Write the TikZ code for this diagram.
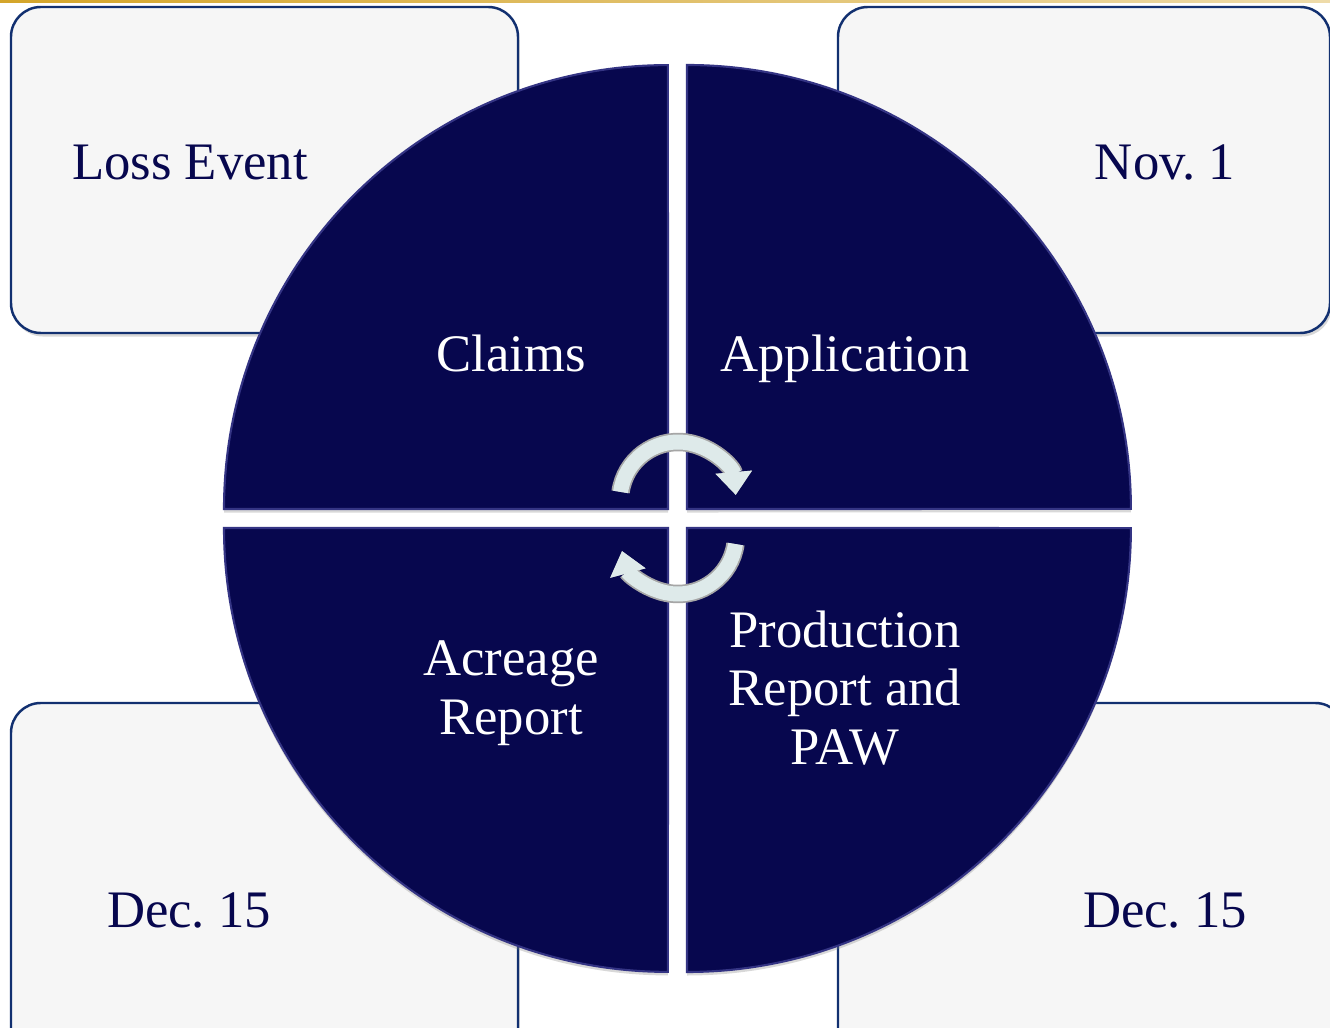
\documentclass[tikz,border=0pt]{standalone}
\usepackage{fontspec}
\setmainfont{Liberation Serif}
\usetikzlibrary{arrows.meta,shadows}
\frenchspacing

\definecolor{navy}{RGB}{7,7,78}
\definecolor{kante}{RGB}{52,52,132}
\definecolor{rahmen}{RGB}{18,48,112}
\definecolor{kasten}{RGB}{246,246,246}
\definecolor{gold}{RGB}{212,165,42}
\definecolor{silber}{RGB}{222,234,234}

\tikzset{
  kastenbox/.style={draw=rahmen, line width=1.4pt, fill=kasten, rounded corners=17pt,
    drop shadow={shadow xshift=1pt, shadow yshift=-2pt, opacity=0.3}},
  viertel/.style={fill=navy, draw=kante, line width=1.2pt,
    drop shadow={shadow xshift=0pt, shadow yshift=-2pt, opacity=0.3}},
  kastentext/.style={text=navy, anchor=base, font=\fontsize{30}{33.5}\selectfont},
  kreistext/.style={text=white, align=center, font=\fontsize{30}{33.5}\selectfont},
  pfeil/.style={line width=8.5pt, silber, -{Triangle[length=13pt,width=20pt]},
    preaction={draw=gray!70, line width=10.5pt}}
}

\begin{document}
\begin{tikzpicture}[x=0.02cm, y=0.02cm]
  \useasboundingbox (0,0) rectangle (1330,1028);
  \clip (0,0) rectangle (1330,1028);
  \fill[white] (0,0) rectangle (1330,1028);

  % Goldlinie
  \shade[left color=gold, right color=gold!40!white] (0,1025.5) rectangle (1330,1028);

  % Kaesten
  \draw[kastenbox] (11,695) rectangle (518,1021);
  \draw[kastenbox] (838,695) rectangle (1330,1021);
  \draw[kastenbox] (11,325) rectangle (518,-30);
  \draw[kastenbox] (838,325) rectangle (1345,-30);

  % Viertelkreise
  \draw[viertel] (668,519) -- ++(-444,0) arc[start angle=180, end angle=90, radius=8.88cm] -- cycle;
  \draw[viertel] (687,519) -- ++(0,444) arc[start angle=90, end angle=0, radius=8.88cm] -- cycle;
  \draw[viertel] (668,500) -- ++(-444,0) arc[start angle=180, end angle=270, radius=8.88cm] -- cycle;
  \draw[viertel] (687,500) -- ++(0,-444) arc[start angle=270, end angle=360, radius=8.88cm] -- cycle;

  % Beschriftung
  \node[kastentext] (loss) at (190,848) {Loss Event};
  \node[kastentext] (nov) at (1165,848) {Nov. 1};
  \node[kastentext] (decl) at (189,100) {Dec. 15};
  \node[kastentext] (decr) at (1165,100) {Dec. 15};
  \node[kreistext, anchor=base] (claims) at (511,656) {Claims};
  \node[kreistext, anchor=base] (appl) at (845,656) {Application};
  \node[kreistext] (acre) at (511,335) {Acreage\\Report};
  \node[kreistext] (prod) at (845,340) {Production\\Report and\\PAW};

  % Pfeile
  \coordinate (oben) at (678,528);
  \coordinate (unten) at (678,492);
  \draw[pfeil] ([shift={(172:58)}]oben) arc[start angle=172, end angle=5, radius=1.16cm];
  \draw[pfeil] ([shift={(-8:58)}]unten) arc[start angle=-8, end angle=-165, radius=1.16cm];
\end{tikzpicture}
\end{document}
